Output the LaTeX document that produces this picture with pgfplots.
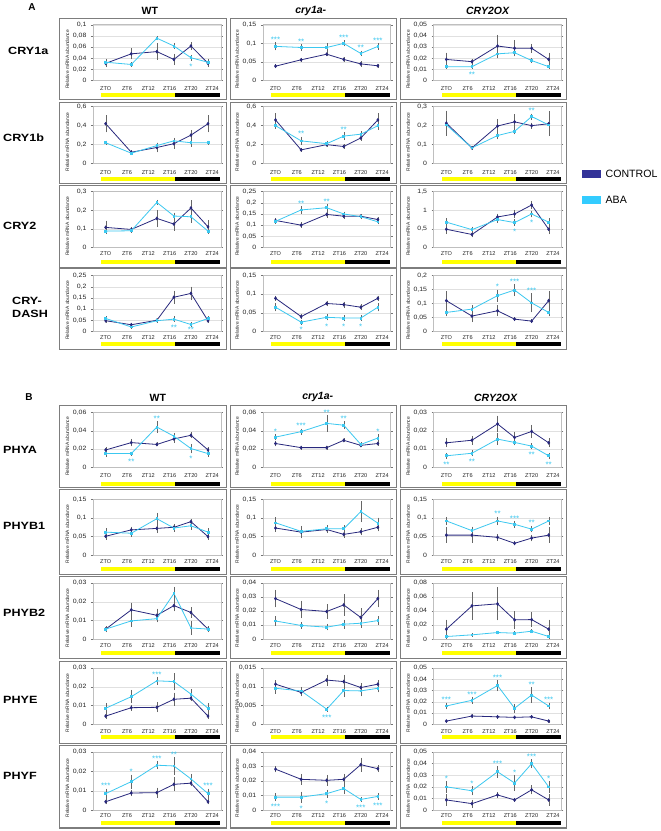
\documentclass[border=0pt]{standalone}
\usepackage{fontspec}
\setmainfont{Liberation Sans}
\usepackage{pgfplots}
\pgfplotsset{compat=1.18}
\definecolor{ctrl}{RGB}{40,40,125}
\definecolor{aba}{RGB}{60,200,240}
\definecolor{legc}{RGB}{51,51,153}
\definecolor{lega}{RGB}{51,204,255}
\definecolor{boxg}{RGB}{125,125,125}
\definecolor{yel}{RGB}{255,255,0}
\pgfplotsset{
  pan/.style={
    scale only axis, width=128pt, anchor=south west,
    xmin=-3, xmax=27, ymin=0, clip=false,
    xtick={0,5,10,15,20,25},
    xticklabels={ZTO,ZT6,ZT12,ZT16,ZT20,ZT24},
    xtick style={draw=none},
    ytick style={draw=black!55, line width=0.4pt},
    tick align=outside, major tick length=2pt,
    ymajorgrids, grid style={black!12, line width=0.4pt},
    axis line style={draw=black!25, line width=0.5pt},
    tick label style={font=\fontsize{5.6}{6}\selectfont, text=black!85},
    xticklabel style={anchor=center},
    yticklabel style={font=\fontsize{6.2}{7}\selectfont, xscale=1.12, xshift=-0.5pt},
    /pgf/number format/.cd, use comma, fixed, precision=3, assume math mode=true,
    /pgfplots/.cd,
    scaled y ticks=false,
    ylabel={Relative mRNA abundance},
    every axis y label/.style={at={(axis description cs:-0.2,0.38)}, rotate=90, anchor=center, font=\fontsize{4.9}{5}\selectfont, text=black!85},
    error bars/error bar style={black!60, line width=0.35pt},
    error bars/error mark options={mark size=1.1pt, black!60, line width=0.35pt},
  },
  c/.style={color=ctrl, line width=0.8pt, mark=diamond*, mark size=1.3pt, error bars/.cd, y dir=both, y explicit},
  a/.style={color=aba, line width=0.8pt, mark=square*, mark size=0.9pt, error bars/.cd, y dir=both, y explicit},
}
\newcommand\daybar[1]{%
  \fill[yel] ([yshift=-#1pt+2pt]axis cs:-1,0) rectangle ([yshift=-#1pt-2pt]axis cs:16.3,0);
  \fill[black] ([yshift=-#1pt+2pt]axis cs:16.3,0) rectangle ([yshift=-#1pt-2pt]axis cs:26.8,0);}
\newcommand\StA[3]{\node[font=\fontsize{8}{8}\selectfont, text=aba, anchor=base, inner sep=0pt, yshift=1pt] at (axis cs:#1,#2) {#3};}
\newcommand\StB[3]{\node[font=\fontsize{8}{8}\selectfont, text=aba, anchor=base, inner sep=0pt, yshift=-9.6pt] at (axis cs:#1,#2) {#3};}
\begin{document}
\begin{tikzpicture}[x=1pt,y=1pt]
\path[fill=white] (0,0) rectangle (661,831);
% boxes
\foreach \yb/\yt in {732/813,648/729,564/646,482/563,344/426,257/342,173/255,88/170,3/86}{
  \draw[boxg, line width=1.1pt] (60,\yb) rectangle (227,\yt);
  \draw[boxg, line width=1.1pt] (231,\yb) rectangle (397,\yt);
  \draw[boxg, line width=1.1pt] (401,\yb) rectangle (567,\yt);
}
% titles
\node[font=\bfseries\fontsize{10}{12}\selectfont] at (32,825) {A};
\node[font=\bfseries\fontsize{10}{12}\selectfont] at (29,434) {B};
\node[font=\bfseries\fontsize{10.5}{12}\selectfont] at (150,821) {WT};
\node[font=\bfseries\itshape\fontsize{10.5}{12}\selectfont] at (311,821) {cry1a-};
\node[font=\bfseries\itshape\fontsize{10.5}{12}\selectfont] at (488,821) {CRY2OX};
\node[font=\bfseries\fontsize{10.5}{12}\selectfont] at (158,434) {WT};
\node[font=\bfseries\itshape\fontsize{10.5}{12}\selectfont] at (318,434) {cry1a-};
\node[font=\bfseries\itshape\fontsize{10.5}{12}\selectfont] at (496,434) {CRY2OX};
% row labels
\begin{scope}[every node/.style={anchor=west, inner sep=0pt, xscale=1.2, font=\bfseries\fontsize{10.5}{13}\selectfont}]
\node at (8,781) {CRY1a};
\node at (3,694) {CRY1b};
\node at (3,606) {CRY2};
\node[align=left] at (12,524.5) {CRY-\\DASH};
\node at (3,381) {PHYA};
\node at (3,305) {PHYB1};
\node at (3,218) {PHYB2};
\node at (3,131) {PHYE};
\node at (3,55) {PHYF};
\end{scope}
% legend
\fill[legc] (583,654) rectangle (602,662);
\fill[lega] (583,628) rectangle (602,636);
\node[anchor=west, inner sep=0pt, font=\fontsize{10.6}{12}\selectfont] at (606,658) {CONTROL};
\node[anchor=west, inner sep=0pt, font=\fontsize{10.6}{12}\selectfont] at (606,632) {ABA};

%%%%%%%%%%%%%%%% A1 CRY1a
\begin{axis}[pan, at={(93pt,751pt)}, height=56pt, xticklabel style={yshift=-6pt}, ymax=0.1, ytick={0,0.02,0.04,0.06,0.08,0.1}]
\addplot[c] coordinates {(0,0.031)+-(0,0.005) (6,0.048)+-(0,0.008) (12,0.052)+-(0,0.013) (16,0.038)+-(0,0.008) (20,0.062)+-(0,0.005) (24,0.031)+-(0,0.005)};
\addplot[a] coordinates {(0,0.033)+-(0,0.004) (6,0.029)+-(0,0.002) (12,0.076)+-(0,0.002) (16,0.062)+-(0,0.003) (20,0.041)+-(0,0.003) (24,0.033)+-(0,0.004)};
\daybar{14}
\StB{20}{0.038}{*}
\end{axis}
\begin{axis}[pan, at={(263pt,751pt)}, height=56pt, xticklabel style={yshift=-6pt}, ymax=0.15, ytick={0,0.05,0.1,0.15}]
\addplot[c] coordinates {(0,0.039)+-(0,0.002) (6,0.056)+-(0,0.003) (12,0.071)+-(0,0.002) (16,0.057)+-(0,0.003) (20,0.045)+-(0,0.004) (24,0.040)+-(0,0.002)};
\addplot[a] coordinates {(0,0.092)+-(0,0.008) (6,0.089)+-(0,0.006) (12,0.089)+-(0,0.008) (16,0.100)+-(0,0.005) (20,0.073)+-(0,0.004) (24,0.092)+-(0,0.006)};
\daybar{14}
\StA{0}{0.100}{***}\StA{6}{0.095}{**}\StA{16}{0.105}{***}\StA{20}{0.077}{**}\StA{24}{0.098}{***}
\end{axis}
\begin{axis}[pan, at={(434pt,751pt)}, height=56pt, xticklabel style={yshift=-6pt}, ymax=0.05, ytick={0,0.01,0.02,0.03,0.04,0.05}]
\addplot[c] coordinates {(0,0.019)+-(0,0.005) (6,0.017)+-(0,0.001) (12,0.031)+-(0,0.009) (16,0.029)+-(0,0.006) (20,0.029)+-(0,0.003) (24,0.019)+-(0,0.005)};
\addplot[a] coordinates {(0,0.0125)+-(0,0.001) (6,0.0125)+-(0,0.001) (12,0.024)+-(0,0.003) (16,0.025)+-(0,0.002) (20,0.018)+-(0,0.001) (24,0.0125)+-(0,0.001)};
\daybar{14}
\StB{6}{0.0115}{**}
\end{axis}
%%%%%%%%%%%%%%%% A2 CRY1b
\begin{axis}[pan, at={(93pt,668pt)}, height=57pt, xticklabel style={yshift=-6.5pt}, ymax=0.6, ytick={0,0.2,0.4,0.6}]
\addplot[c] coordinates {(0,0.42)+-(0,0.08) (6,0.12)+-(0,0.01) (12,0.17)+-(0,0.04) (16,0.21)+-(0,0.04) (20,0.30)+-(0,0.04) (24,0.42)+-(0,0.08)};
\addplot[a] coordinates {(0,0.22)+-(0,0.01) (6,0.11)+-(0,0.01) (12,0.19)+-(0,0.02) (16,0.24)+-(0,0.02) (20,0.22)+-(0,0.03) (24,0.22)+-(0,0.01)};
\daybar{15}
\end{axis}
\begin{axis}[pan, at={(263pt,668pt)}, height=57pt, xticklabel style={yshift=-6.5pt}, ymax=0.6, ytick={0,0.2,0.4,0.6}]
\addplot[c] coordinates {(0,0.46)+-(0,0.06) (6,0.145)+-(0,0.01) (12,0.20)+-(0,0.01) (16,0.18)+-(0,0.01) (20,0.27)+-(0,0.02) (24,0.46)+-(0,0.06)};
\addplot[a] coordinates {(0,0.40)+-(0,0.02) (6,0.24)+-(0,0.03) (12,0.21)+-(0,0.02) (16,0.29)+-(0,0.03) (20,0.31)+-(0,0.02) (24,0.40)+-(0,0.03)};
\daybar{15}
\StA{6}{0.27}{**}\StA{16}{0.32}{**}
\end{axis}
\begin{axis}[pan, at={(434pt,668pt)}, height=57pt, xticklabel style={yshift=-6.5pt}, ymax=0.3, ytick={0,0.1,0.2,0.3}]
\addplot[c] coordinates {(0,0.213)+-(0,0.06) (6,0.083)+-(0,0.005) (12,0.198)+-(0,0.03) (16,0.22)+-(0,0.035) (20,0.20)+-(0,0.01) (24,0.21)+-(0,0.06)};
\addplot[a] coordinates {(0,0.204)+-(0,0.03) (6,0.083)+-(0,0.005) (12,0.148)+-(0,0.015) (16,0.17)+-(0,0.01) (20,0.248)+-(0,0.01) (24,0.204)+-(0,0.03)};
\daybar{15}
\StA{20}{0.258}{**}
\end{axis}
%%%%%%%%%%%%%%%% A3 CRY2
\begin{axis}[pan, at={(93pt,584pt)}, height=56pt, xticklabel style={yshift=-4pt}, ymax=0.3, ytick={0,0.1,0.2,0.3}]
\addplot[c] coordinates {(0,0.108)+-(0,0.03) (6,0.097)+-(0,0.005) (12,0.156)+-(0,0.04) (16,0.126)+-(0,0.03) (20,0.212)+-(0,0.035) (24,0.111)+-(0,0.03)};
\addplot[a] coordinates {(0,0.088)+-(0,0.005) (6,0.09)+-(0,0.005) (12,0.242)+-(0,0.008) (16,0.169)+-(0,0.012) (20,0.165)+-(0,0.025) (24,0.088)+-(0,0.005)};
\daybar{14}
\end{axis}
\begin{axis}[pan, at={(263pt,584pt)}, height=56pt, xticklabel style={yshift=-4pt}, ymax=0.25, ytick={0,0.05,0.1,0.15,0.2,0.25}]
\addplot[c] coordinates {(0,0.121)+-(0,0.006) (6,0.10)+-(0,0.007) (12,0.148)+-(0,0.01) (16,0.14)+-(0,0.006) (20,0.14)+-(0,0.006) (24,0.125)+-(0,0.006)};
\addplot[a] coordinates {(0,0.117)+-(0,0.006) (6,0.168)+-(0,0.012) (12,0.178)+-(0,0.012) (16,0.15)+-(0,0.006) (20,0.138)+-(0,0.006) (24,0.115)+-(0,0.006)};
\daybar{14}
\StA{6}{0.18}{**}\StA{12}{0.19}{**}
\end{axis}
\begin{axis}[pan, at={(434pt,584pt)}, height=56pt, xticklabel style={yshift=-4pt}, ymax=1.5, ytick={0,0.5,1,1.5}]
\addplot[c] coordinates {(0,0.49)+-(0,0.1) (6,0.35)+-(0,0.05) (12,0.82)+-(0,0.06) (16,0.90)+-(0,0.08) (20,1.14)+-(0,0.08) (24,0.49)+-(0,0.1)};
\addplot[a] coordinates {(0,0.68)+-(0,0.08) (6,0.48)+-(0,0.05) (12,0.75)+-(0,0.06) (16,0.67)+-(0,0.06) (20,0.90)+-(0,0.06) (24,0.68)+-(0,0.08)};
\daybar{14}
\StB{16}{0.61}{*}\StB{20}{0.84}{*}
\end{axis}
%%%%%%%%%%%%%%%% A4 CRY-DASH
\begin{axis}[pan, at={(93pt,500pt)}, height=56pt, xticklabel style={yshift=-4.5pt}, ymax=0.25, ytick={0,0.05,0.1,0.15,0.2,0.25}]
\addplot[c] coordinates {(0,0.048)+-(0,0.005) (6,0.03)+-(0,0.003) (12,0.05)+-(0,0.005) (16,0.153)+-(0,0.025) (20,0.17)+-(0,0.025) (24,0.048)+-(0,0.005)};
\addplot[a] coordinates {(0,0.058)+-(0,0.005) (6,0.02)+-(0,0.003) (12,0.048)+-(0,0.005) (16,0.055)+-(0,0.007) (20,0.031)+-(0,0.005) (24,0.058)+-(0,0.005)};
\daybar{13}
\StB{16}{0.048}{**}\StB{20}{0.036}{**}
\end{axis}
\begin{axis}[pan, at={(263pt,500pt)}, height=56pt, xticklabel style={yshift=-4.5pt}, ymax=0.15, ytick={0,0.05,0.1,0.15}]
\addplot[c] coordinates {(0,0.089)+-(0,0.004) (6,0.040)+-(0,0.003) (12,0.075)+-(0,0.005) (16,0.072)+-(0,0.005) (20,0.065)+-(0,0.005) (24,0.089)+-(0,0.004)};
\addplot[a] coordinates {(0,0.065)+-(0,0.008) (6,0.025)+-(0,0.004) (12,0.038)+-(0,0.005) (16,0.036)+-(0,0.005) (20,0.036)+-(0,0.005) (24,0.065)+-(0,0.008)};
\daybar{13}
\StB{6}{0.023}{*}\StB{12}{0.03}{*}\StB{16}{0.03}{*}\StB{20}{0.03}{*}
\end{axis}
\begin{axis}[pan, at={(434pt,500pt)}, height=56pt, xticklabel style={yshift=-4.5pt}, ymax=0.2, ytick={0,0.05,0.1,0.15,0.2}]
\addplot[c] coordinates {(0,0.11)+-(0,0.03) (6,0.055)+-(0,0.018) (12,0.074)+-(0,0.015) (16,0.044)+-(0,0.003) (20,0.037)+-(0,0.003) (24,0.11)+-(0,0.03)};
\addplot[a] coordinates {(0,0.068)+-(0,0.01) (6,0.08)+-(0,0.01) (12,0.128)+-(0,0.018) (16,0.148)+-(0,0.018) (20,0.102)+-(0,0.03) (24,0.068)+-(0,0.01)};
\daybar{13}
\StA{12}{0.146}{*}\StA{16}{0.166}{***}\StA{20}{0.132}{***}
\end{axis}
%%%%%%%%%%%%%%%% B1 PHYA
\begin{axis}[pan, at={(93pt,364pt)}, height=55pt, xticklabel style={yshift=-6.5pt}, ymax=0.06, ytick={0,0.02,0.04,0.06}]
\addplot[c] coordinates {(0,0.019)+-(0,0.002) (6,0.027)+-(0,0.003) (12,0.025)+-(0,0.001) (16,0.031)+-(0,0.003) (20,0.035)+-(0,0.002) (24,0.019)+-(0,0.002)};
\addplot[a] coordinates {(0,0.015)+-(0,0.002) (6,0.015)+-(0,0.001) (12,0.044)+-(0,0.005) (16,0.034)+-(0,0.002) (20,0.0205)+-(0,0.004) (24,0.015)+-(0,0.002)};
\daybar{16.5}
\StB{6}{0.014}{**}\StA{12}{0.049}{**}\StB{20}{0.0165}{*}
\end{axis}
\begin{axis}[pan, at={(263pt,364pt)}, height=55pt, xticklabel style={yshift=-6.5pt}, ymax=0.06, ytick={0,0.02,0.04,0.06}]
\addplot[c] coordinates {(0,0.026)+-(0,0.002) (6,0.0215)+-(0,0.001) (12,0.0215)+-(0,0.001) (16,0.0295)+-(0,0.001) (20,0.024)+-(0,0.001) (24,0.026)+-(0,0.001)};
\addplot[a] coordinates {(0,0.033)+-(0,0.002) (6,0.039)+-(0,0.002) (12,0.048)+-(0,0.008) (16,0.046)+-(0,0.003) (20,0.025)+-(0,0.001) (24,0.032)+-(0,0.003)};
\daybar{16.5}
\StA{0}{0.035}{*}\StA{6}{0.041}{***}\StA{12}{0.056}{**}\StA{16}{0.049}{**}\StA{24}{0.035}{*}
\end{axis}
\begin{axis}[pan, at={(434pt,364pt)}, height=55pt, xticklabel style={yshift=-6.5pt}, ymax=0.03, ytick={0,0.01,0.02,0.03}]
\addplot[c] coordinates {(0,0.0134)+-(0,0.0018) (6,0.0148)+-(0,0.0018) (12,0.0237)+-(0,0.004) (16,0.0163)+-(0,0.0025) (20,0.0196)+-(0,0.003) (24,0.0134)+-(0,0.0018)};
\addplot[a] coordinates {(0,0.0063)+-(0,0.001) (6,0.0077)+-(0,0.001) (12,0.0154)+-(0,0.0025) (16,0.0136)+-(0,0.001) (20,0.0116)+-(0,0.001) (24,0.0063)+-(0,0.001)};
\daybar{16.5}
\StB{0}{0.0053}{**}\StB{6}{0.0067}{**}\StB{20}{0.0106}{**}\StB{24}{0.0053}{**}
\end{axis}
%%%%%%%%%%%%%%%% B2 PHYB1
\begin{axis}[pan, at={(93pt,276pt)}, height=56pt, xticklabel style={yshift=-4.5pt}, ymax=0.15, ytick={0,0.05,0.1,0.15}]
\addplot[c] coordinates {(0,0.051)+-(0,0.006) (6,0.068)+-(0,0.006) (12,0.072)+-(0,0.01) (16,0.075)+-(0,0.006) (20,0.09)+-(0,0.004) (24,0.05)+-(0,0.006)};
\addplot[a] coordinates {(0,0.062)+-(0,0.008) (6,0.059)+-(0,0.006) (12,0.098)+-(0,0.013) (16,0.073)+-(0,0.007) (20,0.079)+-(0,0.008) (24,0.062)+-(0,0.008)};
\daybar{14}
\end{axis}
\begin{axis}[pan, at={(263pt,276pt)}, height=56pt, xticklabel style={yshift=-4.5pt}, ymax=0.15, ytick={0,0.05,0.1,0.15}]
\addplot[c] coordinates {(0,0.073)+-(0,0.007) (6,0.062)+-(0,0.014) (12,0.069)+-(0,0.007) (16,0.056)+-(0,0.006) (20,0.063)+-(0,0.007) (24,0.075)+-(0,0.008)};
\addplot[a] coordinates {(0,0.087)+-(0,0.012) (6,0.064)+-(0,0.006) (12,0.071)+-(0,0.006) (16,0.071)+-(0,0.006) (20,0.117)+-(0,0.025) (24,0.086)+-(0,0.012)};
\daybar{14}
\end{axis}
\begin{axis}[pan, at={(434pt,276pt)}, height=56pt, xticklabel style={yshift=-4.5pt}, ymax=0.15, ytick={0,0.05,0.1,0.15}]
\addplot[c] coordinates {(0,0.054)+-(0,0.018) (6,0.054)+-(0,0.018) (12,0.048)+-(0,0.006) (16,0.032)+-(0,0.002) (20,0.046)+-(0,0.006) (24,0.054)+-(0,0.018)};
\addplot[a] coordinates {(0,0.092)+-(0,0.008) (6,0.066)+-(0,0.008) (12,0.092)+-(0,0.008) (16,0.083)+-(0,0.006) (20,0.07)+-(0,0.006) (24,0.092)+-(0,0.008)};
\daybar{14}
\StA{12}{0.10}{**}\StA{16}{0.089}{***}\StA{20}{0.076}{**}
\end{axis}
%%%%%%%%%%%%%%%% B3 PHYB2
\begin{axis}[pan, at={(93pt,192pt)}, height=56pt, xticklabel style={yshift=-4.5pt}, ymax=0.03, ytick={0,0.01,0.02,0.03}]
\addplot[c] coordinates {(0,0.0054)+-(0,0.001) (6,0.0157)+-(0,0.0033) (12,0.0128)+-(0,0.003) (16,0.018)+-(0,0.0025) (20,0.0143)+-(0,0.0022) (24,0.0054)+-(0,0.001)};
\addplot[a] coordinates {(0,0.0054)+-(0,0.0008) (6,0.0098)+-(0,0.0025) (12,0.011)+-(0,0.0012) (16,0.0245)+-(0,0.003) (20,0.006)+-(0,0.003) (24,0.0054)+-(0,0.0008)};
\daybar{14}
\end{axis}
\begin{axis}[pan, at={(263pt,192pt)}, height=56pt, xticklabel style={yshift=-4.5pt}, ymax=0.04, ytick={0,0.01,0.02,0.03,0.04}]
\addplot[c] coordinates {(0,0.029)+-(0,0.0055) (6,0.0212)+-(0,0.0055) (12,0.0198)+-(0,0.0045) (16,0.0245)+-(0,0.007) (20,0.0155)+-(0,0.006) (24,0.029)+-(0,0.0055)};
\addplot[a] coordinates {(0,0.013)+-(0,0.0025) (6,0.0098)+-(0,0.0015) (12,0.0086)+-(0,0.0015) (16,0.0107)+-(0,0.0025) (20,0.0114)+-(0,0.0025) (24,0.0133)+-(0,0.0022)};
\daybar{14}
\end{axis}
\begin{axis}[pan, at={(434pt,192pt)}, height=56pt, xticklabel style={yshift=-4.5pt}, ymax=0.08, ytick={0,0.02,0.04,0.06,0.08}]
\addplot[c] coordinates {(0,0.0143)+-(0,0.012) (6,0.0476)+-(0,0.018) (12,0.0505)+-(0,0.022) (16,0.0276)+-(0,0.011) (20,0.028)+-(0,0.009) (24,0.0143)+-(0,0.012)};
\addplot[a] coordinates {(0,0.0038)+-(0,0.001) (6,0.0062)+-(0,0.001) (12,0.0095)+-(0,0.001) (16,0.0086)+-(0,0.001) (20,0.0114)+-(0,0.001) (24,0.0038)+-(0,0.001)};
\daybar{14}
\end{axis}
%%%%%%%%%%%%%%%% B4 PHYE
\begin{axis}[pan, at={(93pt,107pt)}, height=56pt, xticklabel style={yshift=-5.5pt}, ymax=0.03, ytick={0,0.01,0.02,0.03}]
\addplot[c] coordinates {(0,0.0043)+-(0,0.0008) (6,0.0088)+-(0,0.001) (12,0.009)+-(0,0.002) (16,0.0133)+-(0,0.003) (20,0.0139)+-(0,0.001) (24,0.0043)+-(0,0.0008)};
\addplot[a] coordinates {(0,0.0085)+-(0,0.002) (6,0.0147)+-(0,0.003) (12,0.0232)+-(0,0.0015) (16,0.0228)+-(0,0.004) (20,0.0161)+-(0,0.002) (24,0.0085)+-(0,0.002)};
\daybar{13}
\StA{12}{0.0247}{***}
\end{axis}
\begin{axis}[pan, at={(263pt,107pt)}, height=56pt, xticklabel style={yshift=-5.5pt}, ymax=0.015, ytick={0,0.005,0.01,0.015}]
\addplot[c] coordinates {(0,0.0107)+-(0,0.0007) (6,0.0085)+-(0,0.0008) (12,0.0118)+-(0,0.0012) (16,0.0114)+-(0,0.0015) (20,0.0098)+-(0,0.0008) (24,0.0107)+-(0,0.0008)};
\addplot[a] coordinates {(0,0.0096)+-(0,0.0012) (6,0.0089)+-(0,0.0008) (12,0.004)+-(0,0.0004) (16,0.009)+-(0,0.0015) (20,0.0089)+-(0,0.0012) (24,0.0096)+-(0,0.0008)};
\daybar{13}
\StB{12}{0.0036}{***}
\end{axis}
\begin{axis}[pan, at={(434pt,107pt)}, height=56pt, xticklabel style={yshift=-5.5pt}, ymax=0.05, ytick={0,0.01,0.02,0.03,0.04,0.05}]
\addplot[c] coordinates {(0,0.0027)+-(0,0.0003) (6,0.0072)+-(0,0.0005) (12,0.0065)+-(0,0.001) (16,0.006)+-(0,0.0005) (20,0.0065)+-(0,0.0005) (24,0.0027)+-(0,0.0003)};
\addplot[a] coordinates {(0,0.0162)+-(0,0.002) (6,0.0213)+-(0,0.002) (12,0.0345)+-(0,0.004) (16,0.0142)+-(0,0.003) (20,0.026)+-(0,0.006) (24,0.0162)+-(0,0.002)};
\daybar{13}
\StA{0}{0.0182}{***}\StA{6}{0.0233}{***}\StA{12}{0.0385}{***}\StA{20}{0.032}{**}\StA{24}{0.0182}{***}
\end{axis}
%%%%%%%%%%%%%%%% B5 PHYF
\begin{axis}[pan, at={(93pt,21pt)}, height=58pt, xticklabel style={yshift=-4pt}, ymax=0.03, ytick={0,0.01,0.02,0.03}]
\addplot[c] coordinates {(0,0.0043)+-(0,0.0008) (6,0.0088)+-(0,0.001) (12,0.009)+-(0,0.002) (16,0.0133)+-(0,0.003) (20,0.0139)+-(0,0.001) (24,0.0043)+-(0,0.0008)};
\addplot[a] coordinates {(0,0.0085)+-(0,0.002) (6,0.0147)+-(0,0.003) (12,0.0232)+-(0,0.0015) (16,0.0228)+-(0,0.004) (20,0.0161)+-(0,0.002) (24,0.0085)+-(0,0.002)};
\daybar{12.7}
\StA{0}{0.0105}{***}\StA{6}{0.0177}{*}\StA{12}{0.0247}{***}\StA{16}{0.0268}{**}\StA{24}{0.0105}{***}
\end{axis}
\begin{axis}[pan, at={(263pt,21pt)}, height=58pt, xticklabel style={yshift=-4pt}, ymax=0.04, ytick={0,0.01,0.02,0.03,0.04}]
\addplot[c] coordinates {(0,0.0282)+-(0,0.0015) (6,0.0212)+-(0,0.003) (12,0.0205)+-(0,0.003) (16,0.0212)+-(0,0.003) (20,0.0313)+-(0,0.004) (24,0.0285)+-(0,0.0015)};
\addplot[a] coordinates {(0,0.0089)+-(0,0.002) (6,0.0089)+-(0,0.003) (12,0.0113)+-(0,0.002) (16,0.0148)+-(0,0.003) (20,0.0073)+-(0,0.001) (24,0.0094)+-(0,0.0015)};
\daybar{12.7}
\StB{0}{0.0069}{***}\StB{6}{0.0059}{*}\StB{12}{0.0093}{*}\StB{20}{0.0063}{***}\StB{24}{0.0079}{***}
\end{axis}
\begin{axis}[pan, at={(434pt,21pt)}, height=58pt, xticklabel style={yshift=-4pt}, ymax=0.05, ytick={0,0.01,0.02,0.03,0.04,0.05}]
\addplot[c] coordinates {(0,0.0087)+-(0,0.004) (6,0.0055)+-(0,0.0025) (12,0.013)+-(0,0.0015) (16,0.0087)+-(0,0.0005) (20,0.0174)+-(0,0.003) (24,0.0087)+-(0,0.004)};
\addplot[a] coordinates {(0,0.020)+-(0,0.004) (6,0.0166)+-(0,0.003) (12,0.033)+-(0,0.004) (16,0.0233)+-(0,0.006) (20,0.040)+-(0,0.003) (24,0.020)+-(0,0.004)};
\daybar{12.7}
\StA{0}{0.024}{*}\StA{6}{0.0196}{*}\StA{12}{0.037}{***}\StA{16}{0.0293}{*}\StA{20}{0.043}{***}\StA{24}{0.024}{*}
\end{axis}
\end{tikzpicture}
\end{document}
